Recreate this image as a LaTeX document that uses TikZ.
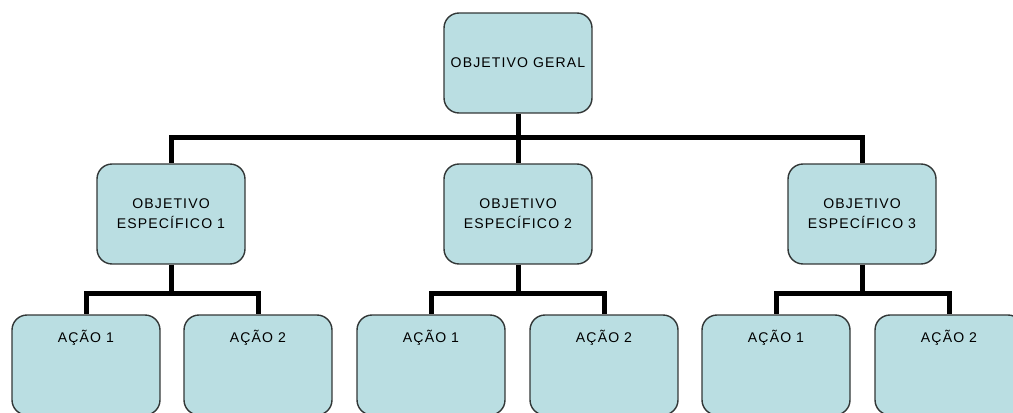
\documentclass[tikz,border=0pt]{standalone}
\usepackage{fontspec}
\setmainfont{Liberation Sans}
\newfontfamily\boxfont[LetterSpace=8]{Liberation Sans}
\definecolor{boxblue}{RGB}{186,222,226}
\definecolor{boxedge}{RGB}{50,55,55}

\begin{document}
\begin{tikzpicture}[x=0.02cm,y=-0.02cm,
  goal/.style={draw=boxedge,line width=0.8pt,rounded corners=0.3cm,fill=boxblue,
    minimum width=2.96cm,minimum height=2cm,align=center,
    font=\boxfont\fontsize{8}{11.5}\selectfont},
  link/.style={line width=0.1cm,black}]

  \useasboundingbox (0,0) rectangle (1013,412);
  \clip (0,0) rectangle (1013,412);

  \node[goal] (geral) at (518,63) {OBJETIVO GERAL};

  \node[goal] (esp1) at (171,214) {OBJETIVO\\ESPECÍFICO 1};
  \node[goal] (esp2) at (518,214) {OBJETIVO\\ESPECÍFICO 2};
  \node[goal] (esp3) at (862,214) {OBJETIVO\\ESPECÍFICO 3};

  \node[goal] (acao11) at (86,365) {AÇÃO 1\\[0.75cm]};
  \node[goal] (acao12) at (258,365) {AÇÃO 2\\[0.75cm]};
  \node[goal] (acao21) at (431,365) {AÇÃO 1\\[0.75cm]};
  \node[goal] (acao22) at (604,365) {AÇÃO 2\\[0.75cm]};
  \node[goal] (acao31) at (776,365) {AÇÃO 1\\[0.75cm]};
  \node[goal] (acao32) at (949,365) {AÇÃO 2\\[0.75cm]};

  \coordinate (j0) at (518,137);
  \coordinate (j1) at (171,293);
  \coordinate (j2) at (518,293);
  \coordinate (j3) at (862,293);

  \draw[link] (geral) -- (j0);
  \draw[link] (j0) -| (esp1);
  \draw[link] (j0) -- (esp2);
  \draw[link] (j0) -| (esp3);

  \draw[link] (esp1) -- (j1);
  \draw[link] (j1) -| (acao11);
  \draw[link] (j1) -| (acao12);

  \draw[link] (esp2) -- (j2);
  \draw[link] (j2) -| (acao21);
  \draw[link] (j2) -| (acao22);

  \draw[link] (esp3) -- (j3);
  \draw[link] (j3) -| (acao31);
  \draw[link] (j3) -| (acao32);

\end{tikzpicture}
\end{document}
